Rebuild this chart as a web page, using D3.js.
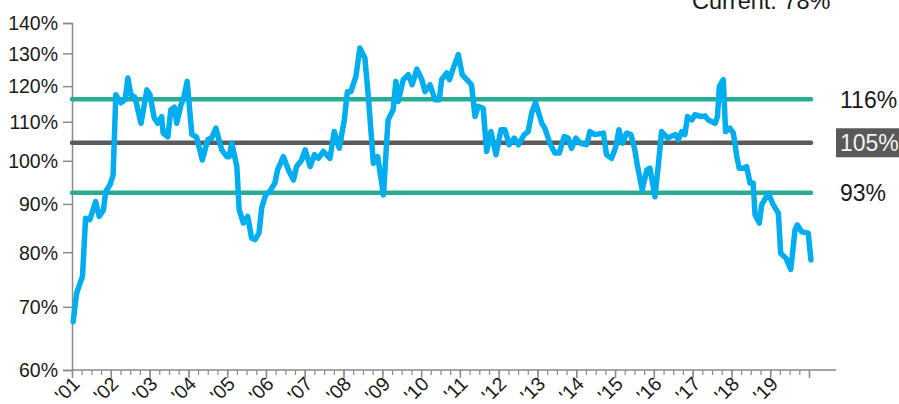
<!DOCTYPE html>
<html>
<head>
<meta charset="utf-8">
<script src="https://cdn.jsdelivr.net/npm/d3@7"></script>
<style>
  body { margin: 0; background: #fff; }
  svg { display: block; font-family: Arial, "Liberation Sans", sans-serif; }
</style>
</head>
<body>
<svg width="899" height="404"></svg>
<script>
// decimal year of each point
const dates = [
  2001.03, 2001.12, 2001.27, 2001.35, 2001.46, 2001.61, 2001.70, 2001.81, 2001.87, 2001.98,
  2002.06, 2002.13, 2002.26, 2002.37, 2002.44, 2002.52, 2002.62, 2002.78, 2002.93, 2003.01,
  2003.12, 2003.21, 2003.31, 2003.35, 2003.47, 2003.55, 2003.64, 2003.70, 2003.81, 2003.87,
  2003.97, 2004.09, 2004.21, 2004.36, 2004.50, 2004.60, 2004.71, 2004.86, 2004.99, 2005.05,
  2005.12, 2005.25, 2005.31, 2005.42, 2005.53, 2005.63, 2005.72, 2005.82, 2005.89, 2005.99,
  2006.10, 2006.23, 2006.30, 2006.45, 2006.58, 2006.71, 2006.79, 2006.92, 2007.01, 2007.14,
  2007.25, 2007.35, 2007.48, 2007.65, 2007.76, 2007.89, 2008.02, 2008.10, 2008.19, 2008.32,
  2008.42, 2008.55, 2008.64, 2008.77, 2008.88, 2009.03, 2009.11, 2009.15, 2009.28, 2009.35,
  2009.41, 2009.54, 2009.67, 2009.77, 2009.89, 2010.02, 2010.10, 2010.23, 2010.36, 2010.47,
  2010.53, 2010.66, 2010.73, 2010.83, 2010.96, 2011.06, 2011.22, 2011.30, 2011.39, 2011.47,
  2011.60, 2011.69, 2011.80, 2011.93, 2012.06, 2012.16, 2012.27, 2012.40, 2012.51, 2012.66,
  2012.76, 2012.85, 2012.95, 2013.11, 2013.19, 2013.32, 2013.45, 2013.56, 2013.69, 2013.79,
  2013.88, 2013.99, 2014.10, 2014.27, 2014.35, 2014.48, 2014.70, 2014.78, 2014.91, 2015.02,
  2015.10, 2015.19, 2015.30, 2015.41, 2015.51, 2015.58, 2015.70, 2015.82, 2015.90, 2016.03,
  2016.12, 2016.20, 2016.36, 2016.44, 2016.56, 2016.63, 2016.72, 2016.80, 2016.87, 2016.98,
  2017.06, 2017.23, 2017.32, 2017.40, 2017.58, 2017.64, 2017.69, 2017.79, 2017.85, 2017.96,
  2018.05, 2018.14, 2018.20, 2018.31, 2018.39, 2018.48, 2018.56, 2018.61, 2018.72, 2018.78,
  2018.95, 2019.08, 2019.21, 2019.27, 2019.41, 2019.53, 2019.64, 2019.70, 2019.81, 2019.98,
  2020.05
];

// ratio in percent at each date
const ratios = [
  67.5, 72.4, 75.4, 86.9, 86.6, 90.5, 87.3, 88.7, 92.8, 94.3,
  96.6, 117.5, 115.2, 116.1, 122.4, 117.5, 116.8, 109.6, 118.9, 117.5,
  111.0, 109.6, 111.4, 107.0, 106.0, 113.3, 114.0, 109.6, 114.7, 116.1,
  121.4, 106.6, 106.0, 100.2, 105.3, 105.7, 108.3, 102.7, 101.0, 101.0,
  104.4, 98.6, 88.7, 85.9, 87.3, 82.8, 82.5, 83.8, 89.1, 92.0,
  92.8, 94.7, 97.8, 101.0, 97.8, 95.4, 98.6, 100.2, 102.7, 98.6,
  101.5, 100.6, 102.3, 100.6, 107.4, 103.1, 110.5, 118.4, 118.4, 122.9,
  131.7, 128.5, 117.0, 99.4, 101.0, 92.0, 104.4, 110.5, 113.3, 121.4,
  115.6, 121.9, 123.4, 120.4, 125.1, 121.9, 118.4, 120.4, 116.1, 116.1,
  121.9, 123.9, 121.9, 125.4, 129.6, 123.4, 121.4, 120.4, 111.4, 114.2,
  113.7, 102.3, 107.4, 101.5, 107.9, 107.9, 104.0, 105.7, 104.0, 106.6,
  107.4, 112.4, 115.3, 109.6, 108.3, 104.4, 101.9, 101.9, 106.1, 105.7,
  103.1, 105.7, 104.4, 104.0, 107.4, 106.6, 107.0, 101.5, 100.6, 103.5,
  107.9, 104.4, 107.0, 106.6, 102.7, 98.6, 93.2, 97.8, 98.2, 91.6,
  99.4, 107.4, 105.7, 106.1, 106.6, 105.3, 107.4, 106.6, 111.4, 110.5,
  111.9, 111.4, 111.6, 110.5, 109.6, 111.4, 119.9, 121.9, 107.4, 108.3,
  107.0, 101.0, 98.2, 98.2, 98.6, 94.7, 94.7, 87.6, 85.9, 89.8,
  92.4, 89.8, 88.0, 79.8, 78.8, 76.7, 84.5, 85.5, 84.1, 83.8,
  78.5
];

// horizontal bands: +1 sd, mean, -1 sd
const refValues = [116.2, 104.5, 92.5];
const refLabels = ["116%", "105%", "93%"];
const refColors = ["#2aab93", "#5b5b5b", "#2aab93"];

const yTicks = [60, 70, 80, 90, 100, 110, 120, 130, 140];
const yearTicks = d3.range(2001, 2021);
const yearLabels = ["'01", "'02", "'03", "'04", "'05", "'06", "'07", "'08", "'09", "'10",
                    "'11", "'12", "'13", "'14", "'15", "'16", "'17", "'18", "'19", ""];
const currentLabel = "Current: 78%";

const svg = d3.select("svg");

const x = d3.scaleLinear().domain([2001, 2020]).range([72, 809]);
const y = d3.scaleLog().domain([60, 140]).range([370, 23]);

const axisColor = "#8a8a8a";
const textColor = "#1a1a1a";

// y axis
const yAxis = svg.append("g")
    .attr("transform", "translate(72,0)")
    .call(d3.axisLeft(y).tickValues(yTicks).tickFormat(d => d + "%").tickSize(9).tickPadding(5));
yAxis.select(".domain").attr("stroke", axisColor).attr("stroke-width", 1.5);
yAxis.selectAll(".tick line").attr("stroke", axisColor).attr("stroke-width", 1.5);
yAxis.selectAll(".tick text").attr("fill", textColor).style("font-size", "19.5px")
    .attr("dy", "0.35em");

// x axis: quarterly minor ticks
const minor = d3.range(2001, 2020.01, 0.25);
const xMinor = svg.append("g")
    .attr("transform", "translate(0,370)")
    .call(d3.axisBottom(x).tickValues(minor).tickFormat("").tickSize(5).tickSizeOuter(0));
xMinor.select(".domain").remove();
xMinor.selectAll(".tick line").attr("stroke", axisColor).attr("stroke-width", 1.2);

const xAxis = svg.append("g")
    .attr("transform", "translate(0,370)")
    .call(d3.axisBottom(x).tickValues(yearTicks).tickFormat("").tickSize(8).tickSizeOuter(0));
xAxis.select(".domain").remove();
xAxis.selectAll(".tick line").attr("stroke", axisColor).attr("stroke-width", 1.5);

svg.append("line")
    .attr("x1", x(2001)).attr("x2", x(2020.7))
    .attr("y1", 370).attr("y2", 370)
    .attr("stroke", axisColor).attr("stroke-width", 1.5);

svg.append("g").selectAll("text")
    .data(yearTicks.filter((d, i) => yearLabels[i]))
    .join("text")
    .attr("transform", d => `translate(${x(d) + 9},${385}) rotate(-45)`)
    .attr("text-anchor", "end")
    .attr("fill", textColor)
    .style("font-size", "19.5px")
    .text((d, i) => yearLabels[i]);

// reference lines
svg.append("g").selectAll("line")
    .data(refValues)
    .join("line")
    .attr("x1", x(2001)).attr("x2", 811)
    .attr("y1", d => y(d)).attr("y2", d => y(d))
    .attr("stroke", (d, i) => refColors[i])
    .attr("stroke-width", 4.5)
    .attr("stroke-linecap", "round");

// series
const series = dates.map((d, i) => [d, ratios[i]]);
svg.append("path")
    .datum(series)
    .attr("fill", "none")
    .attr("stroke", "#00adef")
    .attr("stroke-width", 5.5)
    .attr("stroke-linejoin", "round")
    .attr("stroke-linecap", "round")
    .attr("d", d3.line().x(d => x(d[0])).y(d => y(d[1])));

// band labels
const lab = svg.append("g").selectAll("g")
    .data(refValues)
    .join("g")
    .attr("transform", d => `translate(840,${y(d)})`);

lab.filter((d, i) => i === 1).append("rect")
    .attr("x", -4).attr("y", -14.5)
    .attr("width", 70).attr("height", 29)
    .attr("fill", "#595959");

lab.append("text")
    .attr("dy", "0.36em")
    .attr("fill", (d, i) => i === 1 ? "#f2f2f2" : textColor)
    .style("font-size", "23px")
    .text((d, i) => refLabels[i]);

svg.append("text")
    .attr("x", 692).attr("y", 9)
    .attr("fill", textColor)
    .style("font-size", "23.5px")
    .text(currentLabel);
</script>
</body>
</html>
